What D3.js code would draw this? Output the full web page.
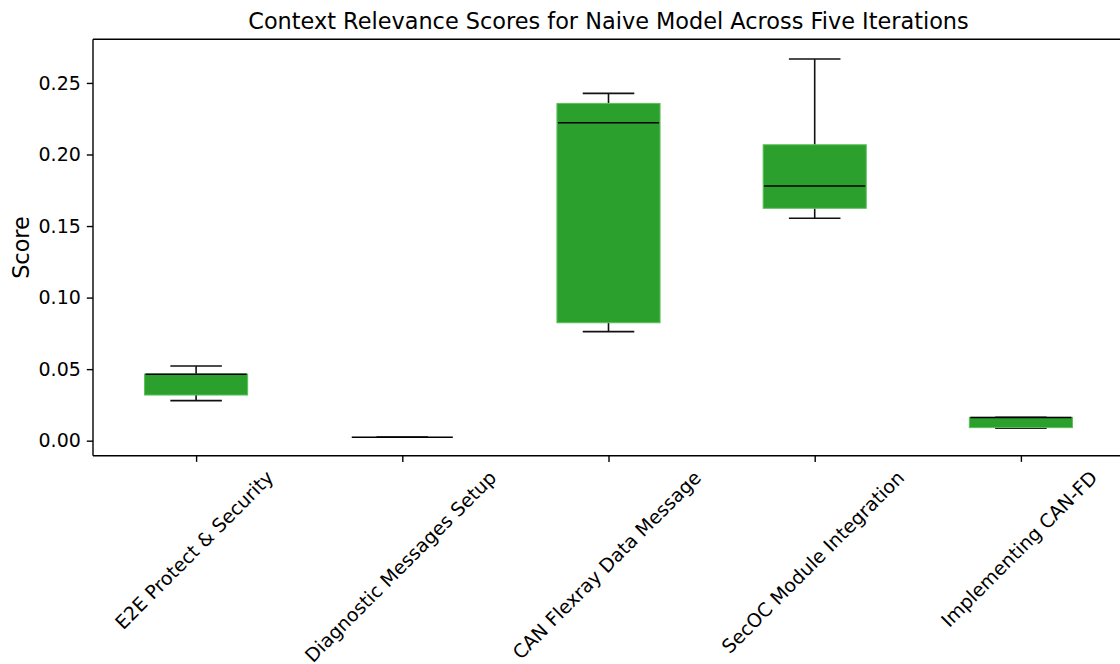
<!DOCTYPE html>
<html>
<head>
<meta charset="utf-8">
<script src="https://cdn.jsdelivr.net/npm/d3@7"></script>
<style>
  html, body { margin: 0; padding: 0; background: #fff; }
  svg { display: block; font-family: "DejaVu Sans", sans-serif; }
</style>
</head>
<body>
<svg id="chart" width="1120" height="664"></svg>
<script>
// Topics evaluated
const categories = [
  "E2E Protect & Security",
  "Diagnostic Messages Setup",
  "CAN Flexray Data Message",
  "SecOC Module Integration",
  "Implementing CAN-FD"
];

// Context relevance score of each topic in the five iterations
const e2eScores        = [0.0464, 0.0280, 0.0522, 0.0319, 0.0466];
const diagnosticScores = [0.0024, 0.0023, 0.0024, 0.0024, 0.0024];
const flexrayScores    = [0.2222, 0.0762, 0.2427, 0.0824, 0.2357];
const secocScores      = [0.1780, 0.2667, 0.1554, 0.2068, 0.1624];
const canFdScores      = [0.0163, 0.0087, 0.0162, 0.0164, 0.0091];

const seriesScores = [e2eScores, diagnosticScores, flexrayScores, secocScores, canFdScores];

const yTickValues = [0.00, 0.05, 0.10, 0.15, 0.20, 0.25];

const titleText = "Context Relevance Scores for Naive Model Across Five Iterations";
const yLabelText = "Score";

// Layout
const plot = { left: 93, right: 1124, top: 39.3, bottom: 455.7 };
const boxFill = "#2ca02c";
const tickFont = 19;
const labelFont = 22.4;

const svg = d3.select("#chart");

const x = d3.scalePoint()
  .domain(categories)
  .range([plot.left, plot.right])
  .padding(0.5);

const y = d3.scaleLinear()
  .domain([-0.0105, 0.2805])
  .range([plot.bottom, plot.top]);

const boxWidth = x.step() * 0.5;
const capWidth = boxWidth * 0.5;

// Five-number summary per topic, matplotlib-style whiskers (1.5 IQR)
const stats = categories.map((c, i) => {
  const v = seriesScores[i].slice().sort(d3.ascending);
  const q1 = d3.quantileSorted(v, 0.25);
  const med = d3.quantileSorted(v, 0.5);
  const q3 = d3.quantileSorted(v, 0.75);
  const iqr = q3 - q1;
  const lo = d3.min(v.filter(d => d >= q1 - 1.5 * iqr));
  const hi = d3.max(v.filter(d => d <= q3 + 1.5 * iqr));
  return { category: c, q1, med, q3, lo, hi };
});

const g = svg.append("g");

// Whiskers
g.selectAll(".whisker-low").data(stats).join("line")
  .attr("x1", d => x(d.category)).attr("x2", d => x(d.category))
  .attr("y1", d => y(d.q1)).attr("y2", d => y(d.lo))
  .attr("stroke", "#111").attr("stroke-width", 1.6);
g.selectAll(".whisker-high").data(stats).join("line")
  .attr("x1", d => x(d.category)).attr("x2", d => x(d.category))
  .attr("y1", d => y(d.q3)).attr("y2", d => y(d.hi))
  .attr("stroke", "#111").attr("stroke-width", 1.6);

// Caps
g.selectAll(".cap-low").data(stats).join("line")
  .attr("x1", d => x(d.category) - capWidth / 2).attr("x2", d => x(d.category) + capWidth / 2)
  .attr("y1", d => y(d.lo)).attr("y2", d => y(d.lo))
  .attr("stroke", "#111").attr("stroke-width", 1.6);
g.selectAll(".cap-high").data(stats).join("line")
  .attr("x1", d => x(d.category) - capWidth / 2).attr("x2", d => x(d.category) + capWidth / 2)
  .attr("y1", d => y(d.hi)).attr("y2", d => y(d.hi))
  .attr("stroke", "#111").attr("stroke-width", 1.6);

// Boxes
g.selectAll(".box").data(stats).join("rect")
  .attr("x", d => x(d.category) - boxWidth / 2)
  .attr("width", boxWidth)
  .attr("y", d => y(d.q3))
  .attr("height", d => Math.max(0, y(d.q1) - y(d.q3)))
  .attr("fill", boxFill)
  .attr("stroke", "#5cbf5c")
  .attr("stroke-width", 1);

// Medians
g.selectAll(".median").data(stats).join("line")
  .attr("x1", d => x(d.category) - boxWidth / 2 + 1).attr("x2", d => x(d.category) + boxWidth / 2 - 1)
  .attr("y1", d => y(d.med)).attr("y2", d => y(d.med))
  .attr("stroke", "#000").attr("stroke-width", 1.6);

// Y axis
const yAxis = svg.append("g")
  .attr("transform", `translate(${plot.left},0)`)
  .call(d3.axisLeft(y).tickValues(yTickValues).tickFormat(d3.format(".2f"))
    .tickSize(6.2).tickPadding(6).tickSizeOuter(0));
yAxis.select(".domain").remove();
yAxis.selectAll(".tick line").attr("stroke", "#000").attr("stroke-width", 1.4);
yAxis.selectAll(".tick text")
  .attr("font-size", tickFont).attr("fill", "#000")
  .attr("font-family", "DejaVu Sans");

// X axis
const xAxis = svg.append("g")
  .attr("transform", `translate(0,${plot.bottom})`)
  .call(d3.axisBottom(x).tickSize(6.2).tickSizeOuter(0).tickFormat(""));
xAxis.select(".domain").remove();
xAxis.selectAll(".tick line").attr("stroke", "#000").attr("stroke-width", 1.4);

// Rotated category labels: bounding box centred under the tick
const labelTop = plot.bottom + 6.2 + 4.2;
const xLabels = svg.append("g");
categories.forEach(c => {
  const t = xLabels.append("text")
    .attr("font-size", tickFont)
    .attr("fill", "#000")
    .attr("text-anchor", "middle")
    .attr("dominant-baseline", "central")
    .text(c);
  const w = t.node().getComputedTextLength();
  const h = tickFont * 1.17;
  const cy = labelTop + (w + h) * Math.SQRT1_2 / 2;
  const cx = x(c) - 2;
  t.attr("transform", `translate(${cx},${cy}) rotate(-45)`);
});

// Spines
const spines = svg.append("g").attr("stroke", "#000").attr("stroke-width", 1.4).attr("fill", "none");
spines.append("line").attr("x1", plot.left).attr("x2", plot.left).attr("y1", plot.top).attr("y2", plot.bottom);
spines.append("line").attr("x1", plot.left).attr("x2", plot.right).attr("y1", plot.bottom).attr("y2", plot.bottom);
spines.append("line").attr("x1", plot.left).attr("x2", plot.right).attr("y1", plot.top).attr("y2", plot.top);
spines.append("line").attr("x1", plot.right).attr("x2", plot.right).attr("y1", plot.top).attr("y2", plot.bottom);

// Title
svg.append("text")
  .attr("x", (plot.left + plot.right) / 2)
  .attr("y", 28.5)
  .attr("text-anchor", "middle")
  .attr("font-size", labelFont)
  .attr("fill", "#000")
  .text(titleText);

// Y label
svg.append("text")
  .attr("transform", `translate(28.5,${(plot.top + plot.bottom) / 2}) rotate(-90)`)
  .attr("text-anchor", "middle")
  .attr("font-size", labelFont)
  .attr("fill", "#000")
  .text(yLabelText);
</script>
</body>
</html>
